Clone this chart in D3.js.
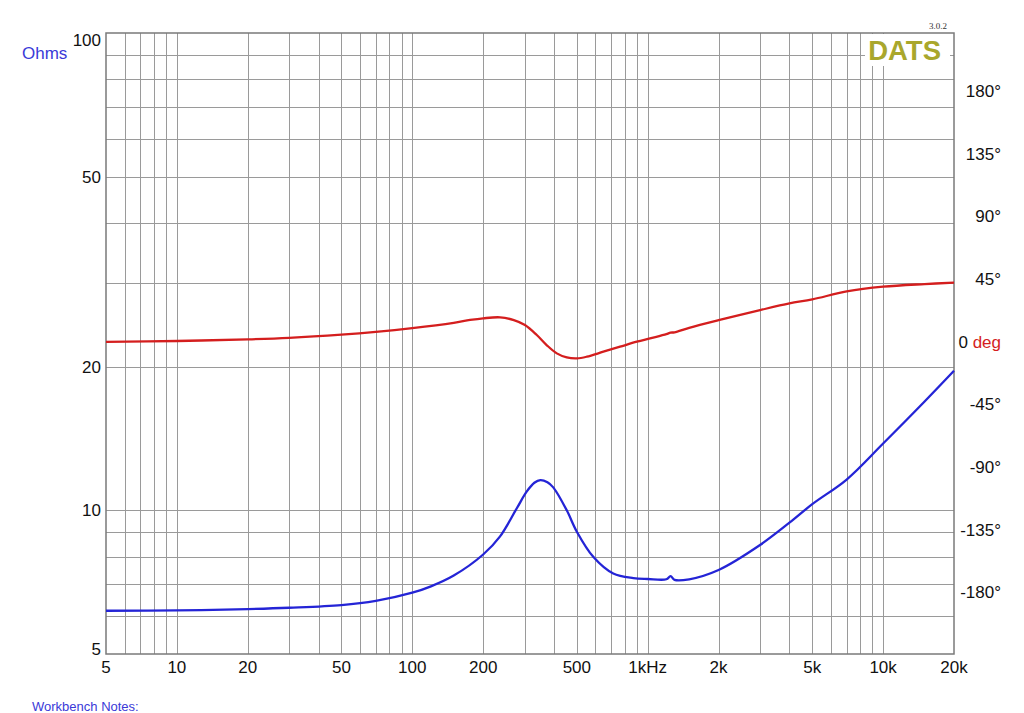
<!DOCTYPE html>
<html>
<head>
<meta charset="utf-8">
<script src="https://cdn.jsdelivr.net/npm/d3@7"></script>
<style>
  body { margin: 0; background: #fff; }
  text { font-family: 'Liberation Sans', Arial, sans-serif; }
</style>
</head>
<body>
<div id="chart"></div>
<script>
// impedance magnitude, ohms (left axis)
const impFreqs = [5, 10, 20, 30, 50, 70, 100, 120, 150, 200, 236, 278, 306, 330, 350, 375, 397, 453, 500,
  587, 714, 869, 1000, 1200, 1250, 1300, 1500, 2000, 3000, 4000, 5000, 7000, 10000, 15000, 20000]
const impedance = [6.16, 6.17, 6.21, 6.25, 6.33, 6.46, 6.72, 6.93, 7.3, 8.08, 8.82, 10.1, 10.94, 11.42, 11.57, 11.45, 11.17, 10.0, 9.02,
  7.99, 7.37, 7.21, 7.18, 7.17, 7.28, 7.15, 7.17, 7.5, 8.46, 9.42, 10.3, 11.6, 13.8, 16.9, 19.6]

// impedance phase, degrees (right axis)
const phaseFreqs = [5, 10, 20, 30, 50, 70, 100, 150, 176, 200, 236, 270, 301, 338, 372, 411, 453, 500, 551,
  648, 763, 899, 1023, 1200, 1250, 1300, 1500, 2000, 3000, 4000, 5000, 7000, 10000, 15000, 20000]
const phase = [-0.3, 0.4, 1.6, 2.7, 5.0, 7.0, 9.7, 13.5, 15.5, 16.7, 17.4, 15.4, 11.9, 4.7, -2.5, -8.5, -11.4, -12.1, -10.9,
  -7.3, -3.7, -0.1, 2.3, 5.3, 6.4, 6.6, 9.9, 15.4, 22.6, 27.4, 30.3, 36.0, 39.4, 41.3, 42.3]

// tick labels
const freqTicks = [5, 10, 20, 50, 100, 200, 500, 1000, 2000, 5000, 10000, 20000]
const freqLabels = ['5', '10', '20', '50', '100', '200', '500', '1kHz', '2k', '5k', '10k', '20k']
const ohmTicks = [5, 10, 20, 50, 100]
const phaseTicks = [180, 135, 90, 45, 0, -45, -90, -135, -180]

class ImpedanceChart {
  defaultSetting () {
    return {
      width: 1024,
      height: 713,
      left: 106,
      right: 954,
      top: 33,
      bottom: 654
    }
  }

  constructor (selector, option = {}) {
    this.config = Object.assign(this.defaultSetting(), option)
    const { width, height } = this.config
    this.svg = d3.select(selector)
      .append('svg')
      .attr('width', width)
      .attr('height', height)
    this.svg.append('rect')
      .attr('width', width)
      .attr('height', height)
      .attr('fill', '#fff')
  }

  render () {
    const { left, right, top, bottom } = this.config
    const svg = this.svg

    const x = d3.scaleLog().domain([5, 20000]).range([left, right])
    const y = d3.scaleLog().domain([5, 100]).range([bottom, top])
    // phase axis: 180 deg sits at y=91, -180 at y=592
    const yp = d3.scaleLinear().domain([-224.5, 221.7]).range([bottom, top])

    // grid values 1..9 per decade
    const xGrid = []
    for (let d = 1; d <= 10000; d *= 10) {
      for (let k = 1; k < 10; k++) {
        const v = d * k
        if (v > 5 && v < 20000) xGrid.push(v)
      }
    }
    const yGrid = [6, 7, 8, 9, 10, 20, 30, 40, 50, 60, 70, 80, 90]

    const grid = svg.append('g')
      .attr('stroke', '#9a9a9a')
      .attr('stroke-width', 1)
    grid.selectAll('line.v')
      .data(xGrid)
      .enter()
      .append('line')
      .attr('class', 'v')
      .attr('x1', d => Math.round(x(d)) + 0.5)
      .attr('x2', d => Math.round(x(d)) + 0.5)
      .attr('y1', top)
      .attr('y2', bottom)
    grid.selectAll('line.h')
      .data(yGrid)
      .enter()
      .append('line')
      .attr('class', 'h')
      .attr('x1', left)
      .attr('x2', right)
      .attr('y1', d => Math.round(y(d)) + 0.5)
      .attr('y2', d => Math.round(y(d)) + 0.5)

    // frame
    svg.append('rect')
      .attr('x', left)
      .attr('y', top)
      .attr('width', right - left)
      .attr('height', bottom - top)
      .attr('fill', 'none')
      .attr('stroke', '#7a7a7a')
      .attr('stroke-width', 1.5)

    // curves
    const magLine = d3.line()
      .x((d, i) => x(impFreqs[i]))
      .y(d => y(d))
      .curve(d3.curveCatmullRom.alpha(0.5))
    const phaseLine = d3.line()
      .x((d, i) => x(phaseFreqs[i]))
      .y(d => yp(d))
      .curve(d3.curveCatmullRom.alpha(0.5))

    svg.append('path')
      .datum(phase)
      .attr('d', phaseLine)
      .attr('fill', 'none')
      .attr('stroke', '#d41e1e')
      .attr('stroke-width', 2.3)
    svg.append('path')
      .datum(impedance)
      .attr('d', magLine)
      .attr('fill', 'none')
      .attr('stroke', '#2424d6')
      .attr('stroke-width', 2.3)

    // logo box
    svg.append('rect')
      .attr('x', 865)
      .attr('y', 34)
      .attr('width', 85)
      .attr('height', 32)
      .attr('fill', '#fff')
    svg.append('text')
      .attr('x', 941)
      .attr('y', 60)
      .attr('text-anchor', 'end')
      .attr('font-size', 27.5)
      .attr('font-weight', 'bold')
      .attr('fill', '#a9a72c')
      .text('DATS')
    svg.append('text')
      .attr('x', 947)
      .attr('y', 29)
      .attr('text-anchor', 'end')
      .attr('font-size', 9)
      .style('font-family', "'Liberation Serif', serif")
      .attr('fill', '#333')
      .text('3.0.2')

    // x labels
    svg.append('g')
      .selectAll('text')
      .data(freqTicks)
      .enter()
      .append('text')
      .attr('x', d => x(d))
      .attr('y', 673)
      .attr('text-anchor', 'middle')
      .attr('font-size', 17)
      .attr('fill', '#111')
      .text((d, i) => freqLabels[i])

    // left labels, ends nudged inside the frame
    svg.append('g')
      .selectAll('text')
      .data(ohmTicks)
      .enter()
      .append('text')
      .attr('x', 101)
      .attr('y', d => y(d) + (d === 100 ? 7 : d === 5 ? -5 : 0))
      .attr('dy', '0.36em')
      .attr('text-anchor', 'end')
      .attr('font-size', 17)
      .attr('fill', '#111')
      .text(d => d)

    svg.append('text')
      .attr('x', 22)
      .attr('y', 59)
      .attr('font-size', 17)
      .attr('fill', '#3a3ad8')
      .text('Ohms')

    // right phase labels
    const pl = svg.append('g')
      .selectAll('text')
      .data(phaseTicks)
      .enter()
      .append('text')
      .attr('x', 1001)
      .attr('y', d => yp(d))
      .attr('dy', '0.36em')
      .attr('text-anchor', 'end')
      .attr('font-size', 17)
      .attr('fill', '#111')
    pl.filter(d => d !== 0).text(d => d + '°')
    const zero = pl.filter(d => d === 0)
    zero.append('tspan').text('0 ')
    zero.append('tspan').attr('fill', '#d41e1e').text('deg')

    svg.append('text')
      .attr('x', 32)
      .attr('y', 711)
      .attr('font-size', 13)
      .attr('fill', '#3a3ad8')
      .text('Workbench Notes:')
  }
}

const chart = new ImpedanceChart('#chart')
chart.render()
</script>
</body>
</html>
